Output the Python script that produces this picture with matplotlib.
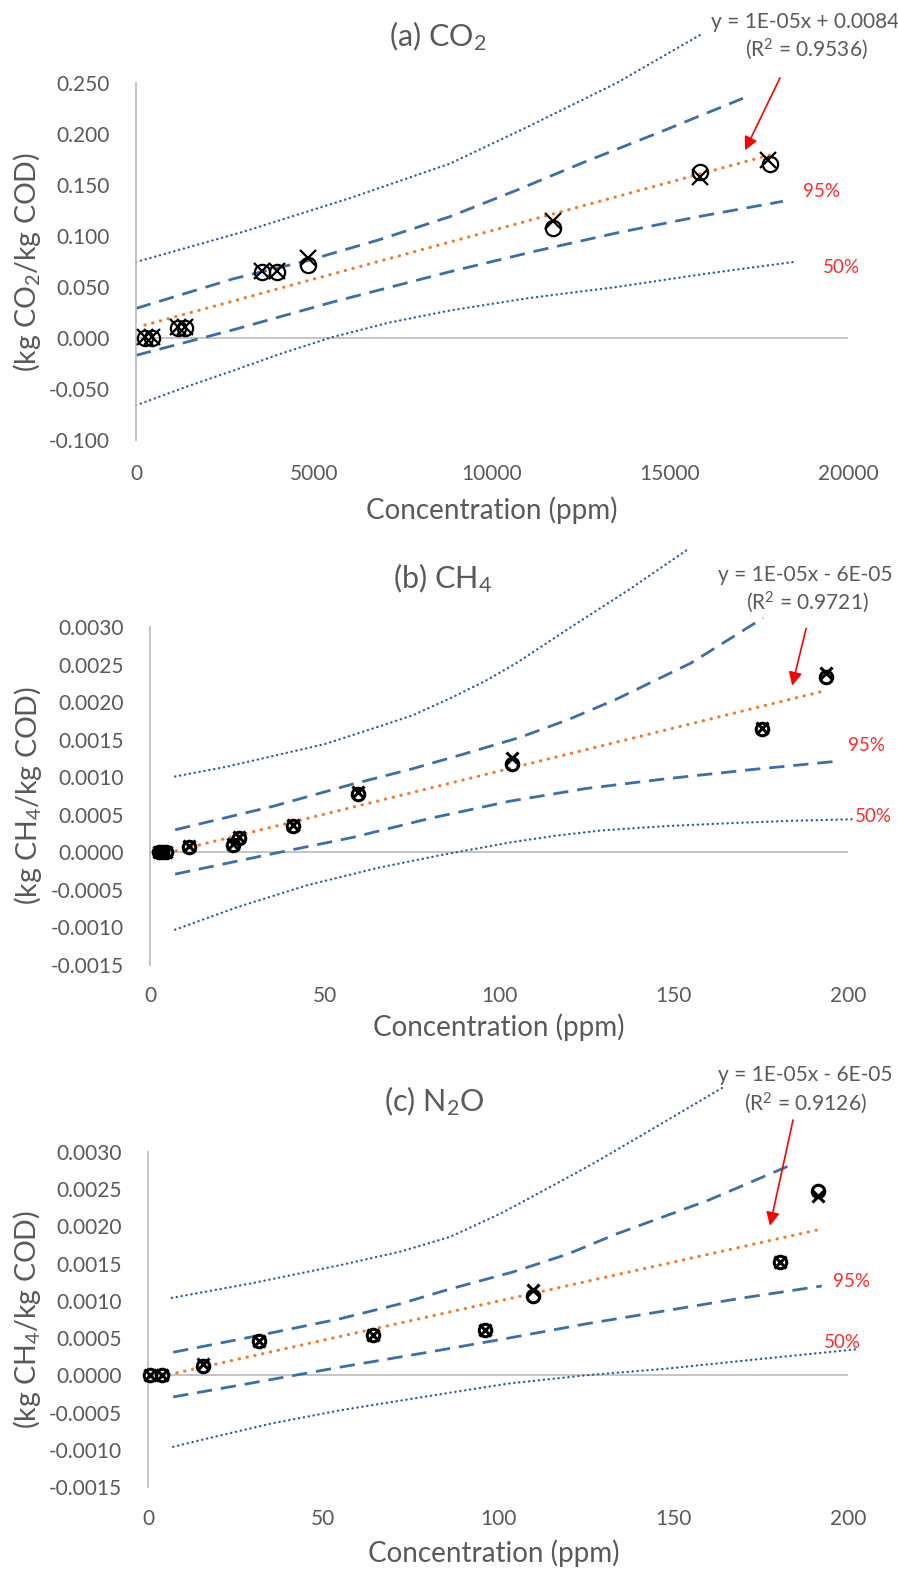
import numpy as np
import matplotlib
matplotlib.use("Agg")
import matplotlib.pyplot as plt

plt.rcParams['font.family'] = ['Lato', 'DejaVu Sans']
plt.rcParams['mathtext.fontset'] = 'custom'
plt.rcParams['mathtext.rm'] = 'Lato'
plt.rcParams['mathtext.it'] = 'Lato:italic'
plt.rcParams['mathtext.default'] = 'regular'

# ---------------- data ----------------
# (a) CO2
a_circ_x = [250, 450, 1180, 1380, 3540, 3960, 4830, 11700, 15850, 17800]
a_circ_y = [0.000, 0.000, 0.010, 0.010, 0.065, 0.065, 0.072, 0.108, 0.163, 0.171]
a_cross_x = [250, 450, 1180, 1380, 3540, 3960, 4830, 11700, 15850, 17750]
a_cross_y = [0.001, 0.001, 0.011, 0.011, 0.066, 0.066, 0.078, 0.115, 0.158, 0.175]
a_trend_x = [250, 17800]
a_trend_y = [0.0127, 0.1794]
a_up95_x = [0, 2730, 4830, 6800, 8820, 10700, 12560, 14800, 17050]
a_up95_y = [0.029, 0.058, 0.076, 0.096, 0.119, 0.145, 0.172, 0.203, 0.235]
a_lo95_x = [0, 2730, 5500, 8820, 11200, 13500, 15800, 18170]
a_lo95_y = [-0.017, 0.008, 0.035, 0.065, 0.085, 0.103, 0.119, 0.134]
a_up50_x = [0, 3000, 6000, 8820, 11000, 13500, 15840]
a_up50_y = [0.0745, 0.104, 0.137, 0.171, 0.207, 0.250, 0.297]
a_lo50_x = [0, 1400, 2730, 4100, 5530, 7100, 8820, 11000, 13500, 16000, 18570]
a_lo50_y = [-0.066, -0.048, -0.032, -0.015, 0.001, 0.015, 0.027, 0.039, 0.050, 0.063, 0.075]

# (b) CH4
b_circ_x = [2.5, 3.5, 4.5, 11.3, 23.9, 25.5, 41.1, 59.7, 103.6, 175.3, 193.7]
b_circ_y = [0.0, 0.0, 0.0, 0.00007, 0.00010, 0.00019, 0.00035, 0.00078, 0.00118, 0.00164, 0.00233]
b_cross_x = [2.5, 3.5, 4.5, 11.3, 23.9, 25.5, 41.1, 59.7, 103.6, 175.3, 193.7]
b_cross_y = [0.0, 0.0, 0.0, 0.00008, 0.00011, 0.00020, 0.00036, 0.00080, 0.00125, 0.00166, 0.00239]
b_trend_x = [3, 192.4]
b_trend_y = [-0.00003, 0.00214]
b_up95_x = [7.2, 35, 58.2, 75, 90, 106, 120, 133.7, 155, 175.7]
b_up95_y = [0.00030, 0.00061, 0.00091, 0.00111, 0.00131, 0.00153, 0.00177, 0.00204, 0.00252, 0.00312]
b_lo95_x = [7.2, 35, 58.2, 80, 103, 125, 148, 172, 196.3]
b_lo95_y = [-0.00029, -0.00002, 0.00020, 0.00045, 0.00068, 0.00085, 0.00098, 0.00110, 0.00121]
b_up50_x = [7.2, 22, 35, 50, 62, 75, 86, 96, 105, 120, 138, 154.3]
b_up50_y = [0.00101, 0.00114, 0.00128, 0.00144, 0.00162, 0.00182, 0.00205, 0.00228, 0.00252, 0.00298, 0.00352, 0.00404]
b_lo50_x = [7.2, 25, 44.9, 65, 83, 103, 116, 129, 148, 167, 184, 201]
b_lo50_y = [-0.00103, -0.00073, -0.00044, -0.00021, -0.00004, 0.00013, 0.00022, 0.00029, 0.00035, 0.00039, 0.00042, 0.00044]

# (c) N2O
c_circ_x = [0.6, 3.9, 15.6, 31.7, 64.4, 96.3, 110.1, 180.6, 191.5]
c_circ_y = [0.0, 0.0, 0.00013, 0.00046, 0.00054, 0.00061, 0.00107, 0.00152, 0.00248]
c_cross_x = [0.6, 3.9, 15.6, 31.7, 64.4, 96.3, 110.1, 180.6, 191.5]
c_cross_y = [0.0, 0.0, 0.00015, 0.00046, 0.00054, 0.00061, 0.00114, 0.00152, 0.00241]
c_trend_x = [6, 191]
c_trend_y = [0.00001, 0.00195]
c_up95_x = [7.2, 30, 54.9, 72, 86.3, 104.4, 120, 133.9, 160, 184.4]
c_up95_y = [0.00031, 0.00052, 0.00076, 0.00096, 0.00116, 0.00139, 0.00163, 0.00190, 0.00235, 0.00284]
c_lo95_x = [7.2, 30, 54.9, 80, 103, 125, 148.2, 170, 192.5]
c_lo95_y = [-0.00029, -0.00010, 0.00011, 0.00031, 0.00050, 0.00069, 0.00087, 0.00104, 0.00120]
c_up50_x = [6.8, 30, 54.9, 72, 86.3, 100.6, 114.9, 127, 138.7, 151, 164.4]
c_up50_y = [0.00104, 0.00124, 0.00148, 0.00166, 0.00186, 0.00217, 0.00253, 0.00284, 0.00316, 0.00350, 0.00387]
c_lo50_x = [7.2, 16.8, 35, 54.9, 80, 103, 125, 148.2, 175, 202.5]
c_lo50_y = [-0.00096, -0.00085, -0.00065, -0.00047, -0.00028, -0.00011, -0.00000, 0.00009, 0.00022, 0.00035]

titles = ["(a) CO$_2$", "(b) CH$_4$", "(c) N$_2$O"]
ylabels = ["(kg CO$_2$/kg COD)", "(kg CH$_4$/kg COD)", "(kg CH$_4$/kg COD)"]
equations = ["y = 1E-05x + 0.0084", "y = 1E-05x - 6E-05", "y = 1E-05x - 6E-05"]
r2_texts = ["(R$^2$ = 0.9536)", "(R$^2$ = 0.9721)", "(R$^2$ = 0.9126)"]
a_xticks = [0, 5000, 10000, 15000, 20000]
bc_xticks = [0, 50, 100, 150, 200]
a_yticks = [-0.100, -0.050, 0.000, 0.050, 0.100, 0.150, 0.200, 0.250]
bc_yticks = [-0.0015, -0.0010, -0.0005, 0.0000, 0.0005, 0.0010, 0.0015, 0.0020, 0.0025, 0.0030]

# ---------------- layout helpers ----------------
W, H = 898, 1571
fig = plt.figure(figsize=(W / 100, H / 100), dpi=100)

def rect(l, r, t, b):
    return [l / W, 1 - b / H, (r - l) / W, (b - t) / H]

def fx(px):
    return px / W

def fy(py):
    return 1 - py / H

GRAY = '#595959'
AXGRAY = '#BFBFBF'
BLUE_DASH = '#3C6FA3'
BLUE_DOT = '#2F5E96'
ORANGE = '#ED7D31'
RED = '#FF2A2A'

panels = [
    dict(rect=rect(136, 848, 83, 440), xlim=(0, 20000), ylim=(-0.100, 0.250),
         xticks=a_xticks, yticks=a_yticks, yfmt='{:.3f}', xpad=17,
         circ=(a_circ_x, a_circ_y), cross=(a_cross_x, a_cross_y), trend=(a_trend_x, a_trend_y),
         up95=(a_up95_x, a_up95_y), lo95=(a_lo95_x, a_lo95_y),
         up50=(a_up50_x, a_up50_y), lo50=(a_lo50_x, a_lo50_y),
         ms=11, mew=1.6,
         lab95=(19242, 0.144), lab50=(19803, 0.0696),
         eq1=(18792, 0.310), eq2=(18820, 0.283),
         arrow_tail=(18090, 0.255), arrow_head=(17107, 0.184),
         title_xy=(438, 36), xlabel_xy=(492, 510), ylabel_x=27),
    dict(rect=rect(150, 848, 627, 965), xlim=(0, 200), ylim=(-0.0015, 0.0030),
         xticks=bc_xticks, yticks=bc_yticks, yfmt='{:.4f}', xpad=15,
         circ=(b_circ_x, b_circ_y), cross=(b_cross_x, b_cross_y), trend=(b_trend_x, b_trend_y),
         up95=(b_up95_x, b_up95_y), lo95=(b_lo95_x, b_lo95_y),
         up50=(b_up50_x, b_up50_y), lo50=(b_lo50_x, b_lo50_y),
         ms=9, mew=2.2,
         lab95=(205.4, 0.00142), lab50=(207.2, 0.00048),
         eq1=(187.7, 0.00369), eq2=(188.3, 0.00333),
         arrow_tail=(188.0, 0.00298), arrow_head=(184.0, 0.00222),
         title_xy=(442, 578), xlabel_xy=(499, 1027), ylabel_x=28),
    dict(rect=rect(148, 848, 1152, 1487), xlim=(0, 200), ylim=(-0.0015, 0.0030),
         xticks=bc_xticks, yticks=bc_yticks, yfmt='{:.4f}', xpad=16,
         circ=(c_circ_x, c_circ_y), cross=(c_cross_x, c_cross_y), trend=(c_trend_x, c_trend_y),
         up95=(c_up95_x, c_up95_y), lo95=(c_lo95_x, c_lo95_y),
         up50=(c_up50_x, c_up50_y), lo50=(c_lo50_x, c_lo50_y),
         ms=9, mew=2.2,
         lab95=(201.1, 0.00126), lab50=(198.3, 0.00044),
         eq1=(187.7, 0.00403), eq2=(187.7, 0.00365),
         arrow_tail=(184.3, 0.00343), arrow_head=(177.7, 0.00201),
         title_xy=(434, 1101), xlabel_xy=(494, 1553), ylabel_x=27),
]

for i, p in enumerate(panels):
    ax = fig.add_axes(p['rect'])
    ax.set_xlim(*p['xlim'])
    ax.set_ylim(*p['ylim'])
    for s in ['top', 'right', 'bottom']:
        ax.spines[s].set_visible(False)
    ax.spines['left'].set_color(AXGRAY)
    ax.spines['left'].set_linewidth(1.3)
    ax.axhline(0, color=AXGRAY, lw=1.3, zorder=1)
    ax.set_xticks(p['xticks'])
    ax.set_xticklabels([str(t) for t in p['xticks']])
    ax.set_yticks(p['yticks'])
    ax.set_yticklabels([p['yfmt'].format(t) for t in p['yticks']])
    ax.tick_params(axis='both', length=0, labelsize=15, colors=GRAY)
    ax.tick_params(axis='y', pad=19)
    ax.tick_params(axis='x', pad=p['xpad'])
    ax.patch.set_alpha(0)

    # prediction bands
    dot_style = dict(color=BLUE_DOT, lw=1.7, linestyle=(0, (0.1, 2.0)),
                     dash_capstyle='round', solid_joinstyle='round', clip_on=False, zorder=2)
    ax.plot(*p['up50'], **dot_style)
    ax.plot(*p['lo50'], **dot_style)
    dash_style = dict(color=BLUE_DASH, lw=2.0, linestyle=(0, (5.5, 3.2)),
                      clip_on=False, zorder=2)
    ax.plot(*p['up95'], **dash_style)
    ax.plot(*p['lo95'], **dash_style)
    # trend line
    ax.plot(*p['trend'], color=ORANGE, lw=2.3, linestyle=(0, (0.1, 2.4)),
            dash_capstyle='round', clip_on=False, zorder=3)
    # data points
    ax.plot(*p['circ'], linestyle='none', marker='o', ms=p['ms'], mfc='none',
            mec='black', mew=p['mew'], clip_on=False, zorder=4)
    ax.plot(*p['cross'], linestyle='none', marker='x', ms=p['ms'], mec='black',
            mew=p['mew'], clip_on=False, zorder=4)

    # percent labels
    ax.text(*p['lab95'], "95%", color=RED, fontsize=13.5, ha='center', va='center', clip_on=False)
    ax.text(*p['lab50'], "50%", color=RED, fontsize=13.5, ha='center', va='center', clip_on=False)

    # equation and arrow
    ax.text(*p['eq1'], equations[i], color=GRAY, fontsize=15, ha='center', va='center', clip_on=False)
    ax.text(*p['eq2'], r2_texts[i], color=GRAY, fontsize=15, ha='center', va='center', clip_on=False)
    ax.annotate('', xy=p['arrow_head'], xytext=p['arrow_tail'],
                arrowprops=dict(arrowstyle='-|>', color='red', lw=1.2, mutation_scale=20,
                                shrinkA=0, shrinkB=0),
                annotation_clip=False)

    # titles and axis labels
    fig.text(fx(p['title_xy'][0]), fy(p['title_xy'][1]), titles[i], fontsize=22,
             color=GRAY, ha='center', va='center')
    fig.text(fx(p['xlabel_xy'][0]), fy(p['xlabel_xy'][1]), "Concentration (ppm)", fontsize=20,
             color=GRAY, ha='center', va='center')
    r = p['rect']
    fig.text(fx(p['ylabel_x']), r[1] + r[3] / 2, ylabels[i], fontsize=20.5, color=GRAY,
             rotation=90, ha='center', va='center')

fig.savefig("out.png", dpi=100, facecolor='white')
